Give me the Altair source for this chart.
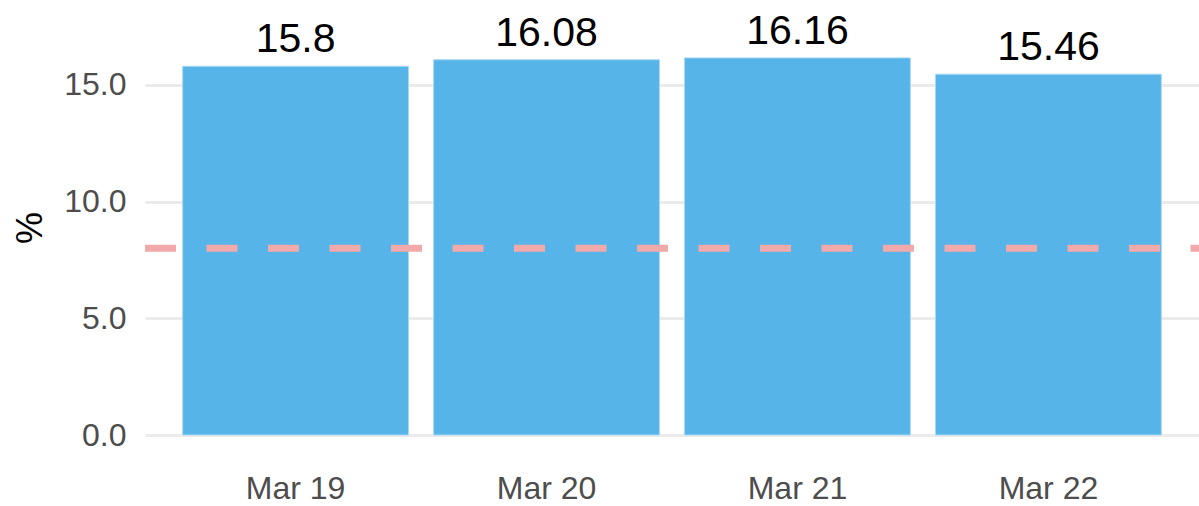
import altair as alt
import pandas as pd

categories = ["Mar 19", "Mar 20", "Mar 21", "Mar 22"]
values = [15.8, 16.08, 16.16, 15.46]
labels = ["15.8", "16.08", "16.16", "15.46"]
threshold = [8]

df = pd.DataFrame({"month": categories, "value": values, "label": labels})
ref = pd.DataFrame({"y": threshold})

FONT = "Liberation Sans"

x = alt.X("month:N", sort=categories, title=None,
          scale=alt.Scale(paddingInner=0.1, paddingOuter=0.15),
          axis=alt.Axis(labelAngle=0, labelFontSize=32, labelColor="#4D4D4D",
                        labelFont=FONT, ticks=False, domain=False, grid=False,
                        labelPadding=18))
y_scale = alt.Scale(domain=[-0.857, 18.64], nice=False, zero=False)

bars = alt.Chart(df).mark_bar(color="#56B4E9", stroke="#A9D8F3", strokeWidth=1).encode(
    x=x,
    y=alt.Y("value:Q", scale=y_scale, title="%",
            axis=alt.Axis(values=[0, 5, 10, 15], format=".1f", labelFontSize=32,
                          labelColor="#4D4D4D", labelFont=FONT, ticks=False,
                          domain=False, gridColor="#EBEBEB", gridWidth=3,
                          labelPadding=19, titleFontSize=36, titleFont=FONT,
                          titleColor="#000000", titleFontWeight="normal",
                          titlePadding=14)),
)

text = alt.Chart(df).mark_text(fontSize=41, font=FONT, color="#000000",
                               baseline="alphabetic", dy=-14).encode(
    x=alt.X("month:N", sort=categories),
    y=alt.Y("value:Q", scale=y_scale),
    text="label:N",
)

rule = alt.Chart(ref).mark_rule(color="#F2A9A9", strokeWidth=7,
                                strokeDash=[31, 30.5]).encode(
    x=alt.value(0), x2=alt.value(1054),
    y=alt.Y("y:Q", scale=y_scale),
)

chart = alt.layer(bars, rule, text).properties(
    width=1054, height=455,
    background="white",
    autosize=alt.AutoSizeParams(type="none"),
    padding={"left": 145, "top": 0, "right": 0, "bottom": 51},
).configure_view(strokeWidth=0, stroke=None)

chart.save("out.html", embed_options={"renderer": "svg", "actions": False})
